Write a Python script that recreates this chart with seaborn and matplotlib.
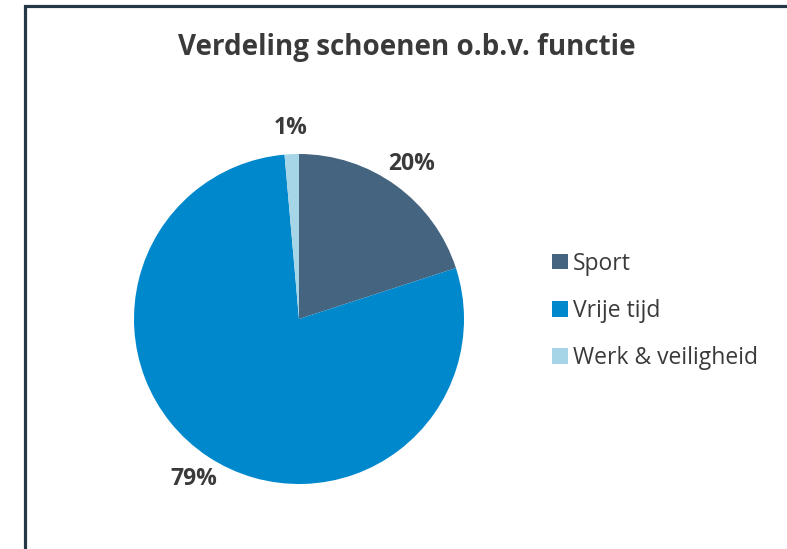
import matplotlib
matplotlib.use("Agg")
import matplotlib.pyplot as plt
from matplotlib.patches import Rectangle
import seaborn as sns

categories = ["Sport", "Vrije tijd", "Werk & veiligheid"]
values = [20.0, 78.6, 1.4]
colors = ["#44647f", "#0088cc", "#a5d5e6"]
title = "Verdeling schoenen o.b.v. functie"

sns.set_theme(style="white")
plt.rcParams["font.family"] = ["Open Sans", "DejaVu Sans"]
text_color = "#3a3a3a"

W, H = 787, 549
fig = plt.figure(figsize=(W / 100, H / 100), dpi=100)
fig.patch.set_facecolor("white")

cx, cy, r = 299, 319, 165
ax = fig.add_axes([(cx - r) / W, (H - cy - r) / H, 2 * r / W, 2 * r / H])
wedges, texts, autotexts = ax.pie(
    values,
    colors=colors,
    startangle=90,
    counterclock=False,
    autopct=lambda p: f"{p:.0f}%",
    pctdistance=1.16,
    wedgeprops=dict(linewidth=0),
    textprops=dict(fontsize=16.5, fontweight="bold", color=text_color),
)
ax.set_xlim(-1, 1)
ax.set_ylim(-1, 1)
ax.set_aspect("equal")
ax.axis("off")

fig.text(407 / W, 1 - 48 / H, title, ha="center", va="center",
         fontsize=20, fontweight="bold", color=text_color)

leg = fig.legend(wedges, categories, loc="center left",
                 bbox_to_anchor=(541 / W, 1 - 311 / H), frameon=False,
                 fontsize=16.5, labelspacing=1.02, handlelength=0.68,
                 handleheight=0.68, handletextpad=0.2, borderpad=0)
for t in leg.get_texts():
    t.set_color(text_color)

fig.patches.append(Rectangle((24.5 / W, -0.1), 1.2, 1.1 - 5.5 / H,
                             transform=fig.transFigure, fill=False,
                             edgecolor="#243746", linewidth=2.3))

fig.savefig("out.png", dpi=100)
